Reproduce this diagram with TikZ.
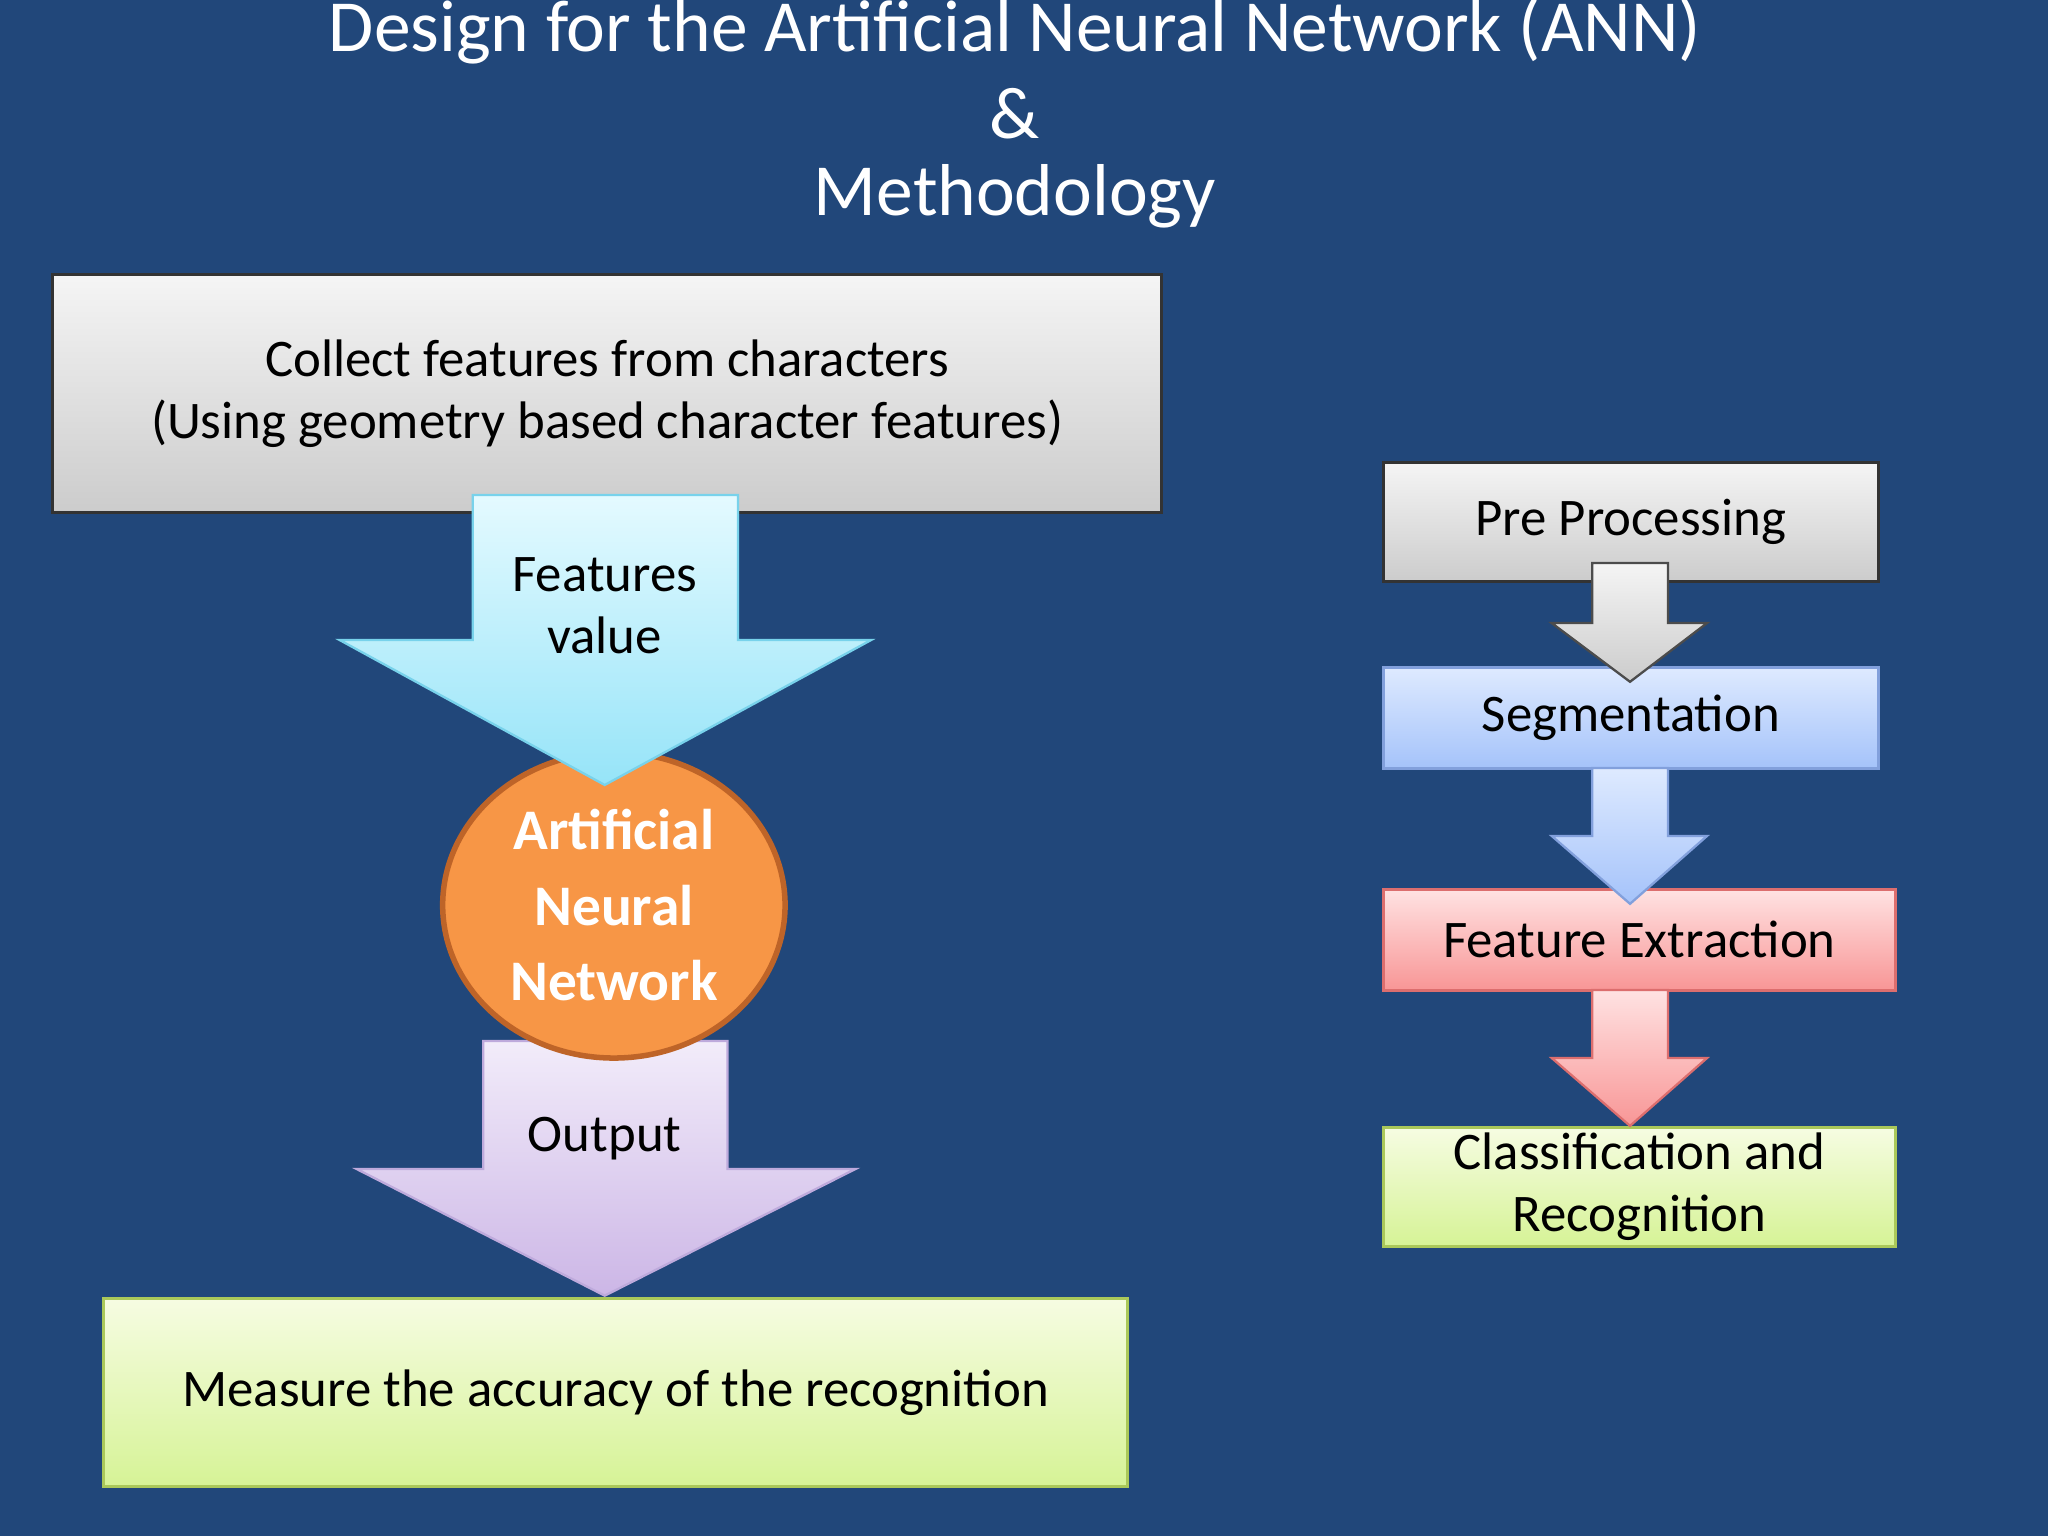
\documentclass[tikz,border=0pt]{standalone}
\usepackage{fontspec}
\setmainfont{Carlito}
\usetikzlibrary{shapes.geometric}
\begin{document}
\begin{tikzpicture}[x=0.01cm,y=-0.01cm,
  box/.style={draw=black!80, line width=0.6pt, anchor=north west, inner sep=0pt, align=center, font=\fontsize{11.5}{13.5}\selectfont},
  gbox/.style={box, top color=gray!8, bottom color=gray!40},
  lbl/.style={align=center, font=\fontsize{11.5}{13.5}\selectfont},
  barrow/.style={line width=0.5pt}]
\fill[fill={rgb,255:red,33;green,71;blue,122}] (0,0) rectangle (1568,1176);
\useasboundingbox (0,0) rectangle (1568,1176);
\node[white, font=\fontsize{16}{18}\selectfont] (t1) at (777,24) {Design for the Artificial Neural Network (ANN)};
\node[white, font=\fontsize{16}{18}\selectfont] (t2) at (777,87) {\&};
\node[white, font=\fontsize{16}{18}\selectfont] (t3) at (777,150) {Methodology};
% top box
\node[gbox, minimum width=8.49cm, minimum height=1.82cm] (top) at (39,209) {Collect features from characters\\(Using geometry based character features)};
% arrow 2 (behind circle)
\shade[barrow, draw={rgb,255:red,190;green,170;blue,220}, top color={rgb,255:red,242;green,236;blue,250}, bottom color={rgb,255:red,204;green,182;blue,230}]
 (370,797) -- (557,797) -- (557,895) -- (655,895) -- (463,992) -- (273,895) -- (370,895) -- cycle;
\node[lbl] (out) at (463,872) {Output};
% circle
\node[ellipse, draw={rgb,255:red,190;green,100;blue,40}, line width=1.2pt, fill={rgb,255:red,247;green,150;blue,70}, minimum width=2.62cm, minimum height=2.34cm, inner sep=0pt] (ann) at (470,693) {};
\node[white, align=center, font=\bfseries\fontsize{12.5}{16.5}\selectfont] at (ann) {Artificial\\Neural\\Network};
% arrow 1
\shade[barrow, draw={rgb,255:red,120;green,210;blue,235}, top color={rgb,255:red,228;green,250;blue,255}, bottom color={rgb,255:red,150;green,228;blue,248}]
 (362,379) -- (565,379) -- (565,490) -- (667,490) -- (463,601) -- (260,490) -- (362,490) -- cycle;
\node[lbl] (fv) at (463,464) {Features\\value};
% bottom box
\node[box, draw={rgb,255:red,170;green,200;blue,90}, top color={rgb,255:red,246;green,252;blue,226}, bottom color={rgb,255:red,214;green,243;blue,150}, minimum width=7.84cm, minimum height=1.44cm] (acc) at (78,993) {Measure the accuracy of the recognition};
% right column
\node[gbox, minimum width=3.79cm, minimum height=0.91cm] (pre) at (1058,353) {Pre Processing};
\node[box, draw={rgb,255:red,130;green,160;blue,220}, top color={rgb,255:red,222;green,234;blue,255}, bottom color={rgb,255:red,165;green,195;blue,250}, minimum width=3.79cm, minimum height=0.77cm] (seg) at (1058,510) {Segmentation};
\node[box, draw={rgb,255:red,220;green,110;blue,110}, top color={rgb,255:red,255;green,226;blue,226}, bottom color={rgb,255:red,248;green,150;blue,150}, minimum width=3.92cm, minimum height=0.77cm] (fe) at (1058,680) {Feature Extraction};
\node[box, draw={rgb,255:red,170;green,200;blue,90}, top color={rgb,255:red,246;green,252;blue,226}, bottom color={rgb,255:red,214;green,243;blue,150}, minimum width=3.92cm, minimum height=0.91cm] (cls) at (1058,862) {Classification and\\Recognition};
\shade[barrow, draw=black!70, top color=gray!8, bottom color=gray!40]
 (1219,431) -- (1277,431) -- (1277,477) -- (1307,477) -- (1248,522) -- (1188,477) -- (1219,477) -- cycle;
\shade[barrow, draw={rgb,255:red,130;green,160;blue,220}, top color={rgb,255:red,222;green,234;blue,255}, bottom color={rgb,255:red,165;green,195;blue,250}]
 (1219,588) -- (1277,588) -- (1277,640) -- (1307,640) -- (1248,692) -- (1188,640) -- (1219,640) -- cycle;
\shade[barrow, draw={rgb,255:red,220;green,110;blue,110}, top color={rgb,255:red,255;green,226;blue,226}, bottom color={rgb,255:red,248;green,150;blue,150}]
 (1219,758) -- (1277,758) -- (1277,810) -- (1307,810) -- (1248,862) -- (1188,810) -- (1219,810) -- cycle;
\end{tikzpicture}
\end{document}
